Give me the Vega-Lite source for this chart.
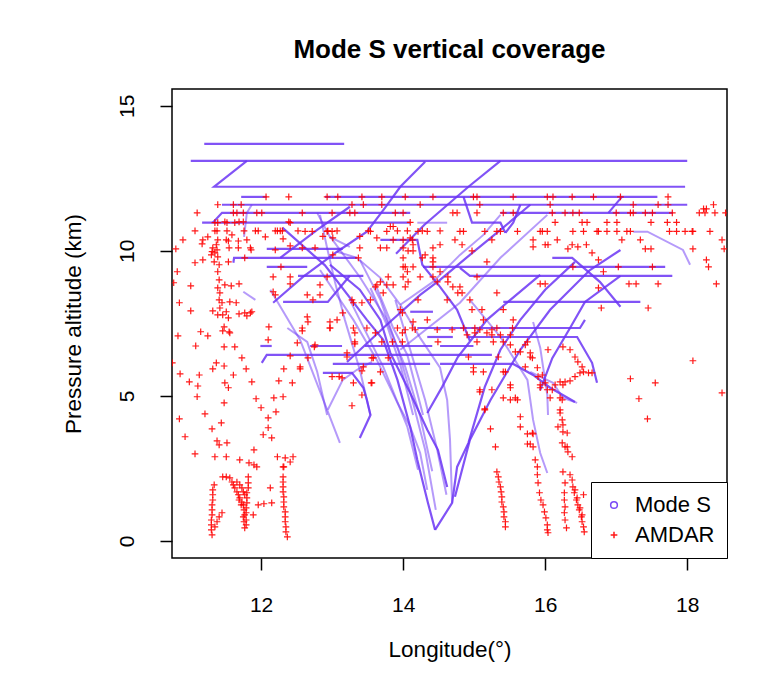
{
"$schema":"https://vega.github.io/schema/vega-lite/v6.json",
"width":555,"height":469,
"autosize":"none",
"padding":{"left":172,"top":89,"right":57,"bottom":116},
"background":"white",
"config":{"view":{"stroke":"#000","strokeWidth":1.5},"font":"Liberation Sans"},
"title":{"text":"Mode S vertical coverage","fontSize":26,"fontWeight":"bold","font":"Liberation Sans","color":"#000","offset":26,"anchor":"middle"},
"datasets":{
"dense":[
{"t":"m1","x":11.20,"y":13.69},{"t":"m1","x":13.17,"y":13.69},
{"t":"m2","x":11.01,"y":13.10},{"t":"m2","x":18.00,"y":13.10},
{"t":"m3","x":11.80,"y":13.10},{"t":"m3","x":11.34,"y":12.21},{"t":"m3","x":17.97,"y":12.21},
{"t":"m4","x":11.72,"y":11.86},{"t":"m4","x":12.08,"y":11.86},
{"t":"m5","x":12.90,"y":11.86},{"t":"m5","x":17.58,"y":11.86},
{"t":"m6","x":11.45,"y":11.59},{"t":"m6","x":18.00,"y":11.59},
{"t":"m7","x":11.32,"y":10.97},{"t":"m7","x":11.45,"y":11.31},{"t":"m7","x":14.10,"y":11.31},
{"t":"m8","x":15.37,"y":11.31},{"t":"m8","x":17.80,"y":11.31},
{"t":"m9","x":11.17,"y":10.97},{"t":"m9","x":14.10,"y":10.97},
{"t":"m10","x":14.85,"y":11.86},{"t":"m10","x":14.97,"y":10.97},{"t":"m10","x":15.37,"y":10.97},{"t":"m10","x":15.44,"y":10.62},
{"t":"m11","x":15.65,"y":11.59},{"t":"m11","x":15.55,"y":10.97},{"t":"m11","x":15.44,"y":10.62},
{"t":"m12","x":17.08,"y":11.86},{"t":"m12","x":16.89,"y":11.31},
{"t":"m15","x":12.08,"y":10.07},{"t":"m15","x":13.15,"y":10.07},
{"t":"m16","x":13.68,"y":10.38},{"t":"m16","x":14.20,"y":10.38},{"t":"m16","x":14.27,"y":9.52},{"t":"m16","x":14.52,"y":8.76},{"t":"m16","x":14.76,"y":7.97},{"t":"m16","x":14.94,"y":6.90},
{"t":"m17","x":11.61,"y":9.59},{"t":"m17","x":11.62,"y":9.76},{"t":"m17","x":13.35,"y":9.76},
{"t":"m18","x":16.10,"y":9.76},{"t":"m18","x":16.38,"y":9.76},{"t":"m18","x":16.77,"y":8.93},{"t":"m18","x":17.06,"y":8.07},
{"t":"m19a","x":14.28,"y":9.45},{"t":"m19a","x":17.69,"y":9.45},
{"t":"m19b","x":12.08,"y":9.45},{"t":"m19b","x":12.65,"y":9.45},
{"t":"m20","x":12.52,"y":9.14},{"t":"m20","x":13.44,"y":9.14},
{"t":"m21","x":14.80,"y":9.41},{"t":"m21","x":14.94,"y":9.14},{"t":"m21","x":17.79,"y":9.14},
{"t":"m22","x":12.31,"y":8.24},{"t":"m22","x":12.94,"y":8.24},{"t":"m22","x":13.25,"y":9.14},
{"t":"m23","x":15.41,"y":8.24},{"t":"m23","x":17.34,"y":8.24},
{"t":"m24","x":15.93,"y":5.20},{"t":"m24","x":16.10,"y":6.30},{"t":"m24","x":16.35,"y":7.34},{"t":"m24","x":16.56,"y":8.24},{"t":"m24","x":17.06,"y":9.14},
{"t":"m26","x":14.10,"y":7.90},{"t":"m26","x":14.42,"y":7.90},
{"t":"m27","x":14.20,"y":7.34},{"t":"m27","x":16.49,"y":7.34},{"t":"m27","x":16.56,"y":7.62},
{"t":"m28a","x":14.34,"y":7.03},{"t":"m28a","x":14.70,"y":7.03},
{"t":"m28b","x":14.90,"y":7.03},{"t":"m28b","x":16.45,"y":7.03},{"t":"m28b","x":16.66,"y":6.14},{"t":"m28b","x":16.73,"y":5.45},
{"t":"m29a","x":11.99,"y":6.72},{"t":"m29a","x":12.15,"y":6.72},
{"t":"m29b","x":12.69,"y":6.72},{"t":"m29b","x":13.14,"y":6.72},
{"t":"m29c","x":13.46,"y":6.72},{"t":"m29c","x":14.41,"y":6.72},
{"t":"m29d","x":14.52,"y":6.72},{"t":"m29d","x":14.99,"y":6.72},
{"t":"m30","x":12.01,"y":6.14},{"t":"m30","x":12.08,"y":6.41},{"t":"m30","x":15.25,"y":6.41},
{"t":"m31","x":13.01,"y":6.10},{"t":"m31","x":14.38,"y":6.10},
{"t":"m32","x":14.52,"y":6.10},{"t":"m32","x":15.55,"y":6.10},{"t":"m32","x":15.83,"y":5.72},{"t":"m32","x":16.07,"y":5.28},{"t":"m32","x":16.42,"y":4.79},
{"t":"m34","x":12.87,"y":5.79},{"t":"m34","x":13.28,"y":5.79},{"t":"m34","x":13.44,"y":5.28},{"t":"m34","x":13.49,"y":4.86},{"t":"m34","x":13.54,"y":4.34},{"t":"m34","x":13.39,"y":3.55},
{"t":"m36","x":12.30,"y":10.80},{"t":"m36","x":12.90,"y":9.50},{"t":"m36","x":13.49,"y":7.62},{"t":"m36","x":13.72,"y":6.93},{"t":"m36","x":13.92,"y":5.55},{"t":"m36","x":14.10,"y":3.93},{"t":"m36","x":14.20,"y":2.79},{"t":"m36","x":14.35,"y":1.31},{"t":"m36","x":14.45,"y":0.38},
{"t":"m37","x":14.45,"y":0.38},{"t":"m37","x":14.69,"y":1.31},{"t":"m37","x":14.76,"y":2.55},{"t":"m37","x":14.92,"y":3.38},{"t":"m37","x":15.15,"y":5.31},{"t":"m37","x":15.37,"y":6.59},{"t":"m37","x":15.65,"y":7.62},{"t":"m37","x":16.00,"y":8.66},{"t":"m37","x":16.42,"y":9.62},
{"t":"m38","x":14.62,"y":1.86},{"t":"m38","x":14.49,"y":3.14},{"t":"m38","x":14.34,"y":3.83},{"t":"m38","x":14.10,"y":5.10},{"t":"m38","x":13.82,"y":6.48},{"t":"m38","x":13.68,"y":7.62},{"t":"m38","x":13.39,"y":8.66},{"t":"m38","x":12.97,"y":9.52},
{"t":"m41","x":14.73,"y":1.52},{"t":"m41","x":14.94,"y":3.48},{"t":"m41","x":15.23,"y":4.86},{"t":"m41","x":15.65,"y":6.59},{"t":"m41","x":16.07,"y":7.97},{"t":"m41","x":16.63,"y":9.34},{"t":"m41","x":17.06,"y":10.03},
{"t":"m42","x":14.34,"y":4.41},{"t":"m42","x":14.55,"y":5.31},{"t":"m42","x":14.77,"y":6.34},{"t":"m42","x":15.18,"y":7.62},{"t":"m42","x":15.51,"y":8.31},{"t":"m42","x":15.93,"y":9.17},
{"t":"m51","x":12.17,"y":8.21},{"t":"m51","x":12.59,"y":9.10},{"t":"m51","x":13.07,"y":9.97},{"t":"m51","x":13.49,"y":10.66},{"t":"m51","x":13.75,"y":11.50},{"t":"m51","x":13.96,"y":12.21},{"t":"m51","x":14.31,"y":13.07},
{"t":"m52","x":13.21,"y":6.17},{"t":"m52","x":13.77,"y":7.45},{"t":"m52","x":14.24,"y":8.48},{"t":"m52","x":14.52,"y":9.00},{"t":"m52","x":14.94,"y":9.86},{"t":"m52","x":15.37,"y":10.72},{"t":"m52","x":15.79,"y":11.59},
{"t":"m53","x":12.27,"y":9.76},{"t":"m53","x":12.79,"y":10.72},{"t":"m53","x":13.25,"y":11.52},
{"t":"m55","x":13.90,"y":9.90},{"t":"m55","x":14.30,"y":10.90},{"t":"m55","x":14.92,"y":12.21},{"t":"m55","x":15.37,"y":13.10}
],
"sparse":[
{"t":"s9b","x":14.20,"y":10.97},{"t":"s9b","x":14.62,"y":10.97},
{"t":"s13","x":13.96,"y":6.59},{"t":"s13","x":14.80,"y":8.21},{"t":"s13","x":15.37,"y":9.76},{"t":"s13","x":16.03,"y":11.24},
{"t":"s14","x":13.96,"y":8.14},{"t":"s14","x":14.42,"y":8.93},{"t":"s14","x":14.80,"y":9.86},{"t":"s14","x":15.13,"y":10.55},{"t":"s14","x":15.37,"y":11.24},
{"t":"s25","x":17.24,"y":10.66},{"t":"s25","x":17.44,"y":10.66},{"t":"s25","x":17.94,"y":10.03},{"t":"s25","x":18.04,"y":9.52},
{"t":"s33","x":15.79,"y":5.83},{"t":"s33","x":16.11,"y":5.45},{"t":"s33","x":16.25,"y":4.93},{"t":"s33","x":16.45,"y":4.76},
{"t":"s35","x":13.07,"y":9.97},{"t":"s35","x":13.35,"y":9.76},{"t":"s35","x":13.68,"y":9.07},{"t":"s35","x":13.96,"y":8.14},{"t":"s35","x":14.24,"y":7.00},{"t":"s35","x":14.52,"y":5.97},{"t":"s35","x":14.62,"y":4.86},{"t":"s35","x":14.66,"y":3.50},{"t":"s35","x":14.69,"y":1.31},
{"t":"s39","x":12.83,"y":9.34},{"t":"s39","x":13.30,"y":7.62},{"t":"s39","x":13.63,"y":6.24},{"t":"s39","x":13.92,"y":4.76},{"t":"s39","x":14.10,"y":3.93},{"t":"s39","x":14.24,"y":3.03},{"t":"s39","x":14.34,"y":1.76},
{"t":"s40","x":13.25,"y":8.31},{"t":"s40","x":13.72,"y":6.00},{"t":"s40","x":14.06,"y":3.93},{"t":"s40","x":14.21,"y":2.45},
{"t":"s43","x":14.94,"y":8.31},{"t":"s43","x":15.37,"y":7.03},{"t":"s43","x":15.75,"y":5.55},{"t":"s43","x":15.83,"y":4.17},{"t":"s43","x":15.93,"y":3.03},{"t":"s43","x":16.03,"y":2.34},
{"t":"s44","x":15.83,"y":7.55},{"t":"s44","x":15.93,"y":6.66},{"t":"s44","x":16.03,"y":5.03},{"t":"s44","x":16.04,"y":4.34},
{"t":"s45","x":12.13,"y":8.66},{"t":"s45","x":12.55,"y":6.93},{"t":"s45","x":13.11,"y":3.38},
{"t":"s46","x":12.37,"y":7.34},{"t":"s46","x":12.65,"y":6.86},{"t":"s46","x":12.79,"y":5.83},{"t":"s46","x":12.93,"y":4.34},
{"t":"s47","x":12.83,"y":11.24},{"t":"s47","x":12.93,"y":10.10},{"t":"s47","x":13.04,"y":8.93},{"t":"s47","x":13.18,"y":7.62},{"t":"s47","x":13.39,"y":5.90},{"t":"s47","x":13.54,"y":4.34},
{"t":"s48","x":13.54,"y":8.72},{"t":"s48","x":13.77,"y":7.45},{"t":"s48","x":13.96,"y":6.07},{"t":"s48","x":14.14,"y":4.34},
{"t":"s49","x":13.63,"y":8.72},{"t":"s49","x":13.86,"y":7.34},{"t":"s49","x":14.06,"y":6.41},{"t":"s49","x":14.28,"y":4.34},
{"t":"s50","x":12.94,"y":4.52},{"t":"s50","x":13.15,"y":5.55},{"t":"s50","x":13.35,"y":5.90},{"t":"s50","x":13.56,"y":6.17},
{"t":"s56","x":11.87,"y":11.59},{"t":"s56","x":11.80,"y":11.31},{"t":"s56","x":11.76,"y":10.48},
{"t":"s57","x":11.75,"y":8.59},{"t":"s57","x":11.92,"y":8.31},
{"t":"s58","x":12.79,"y":11.31},{"t":"s58","x":12.97,"y":10.48},{"t":"s58","x":13.25,"y":10.14},
{"t":"s60","x":13.89,"y":8.31},{"t":"s60","x":14.10,"y":6.59},{"t":"s60","x":14.31,"y":4.86},{"t":"s60","x":14.48,"y":3.14},{"t":"s60","x":14.61,"y":1.59},
{"t":"s61","x":13.39,"y":9.69},{"t":"s61","x":13.68,"y":8.31},{"t":"s61","x":13.93,"y":6.59},{"t":"s61","x":14.13,"y":4.86},{"t":"s61","x":14.31,"y":3.14},{"t":"s61","x":14.46,"y":1.07},
{"t":"s62","x":12.97,"y":10.50},{"t":"s62","x":13.39,"y":9.10},{"t":"s62","x":13.75,"y":7.70},{"t":"s62","x":14.03,"y":6.00},{"t":"s62","x":14.24,"y":4.30},{"t":"s62","x":14.41,"y":2.40}
],
"amdar":[
{"x":10.75,"y":6.14},{"x":10.77,"y":8.90},{"x":10.80,"y":10.07},{"x":10.82,"y":9.28},{"x":10.83,"y":7.07},{"x":10.85,"y":8.21},{"x":10.85,"y":4.21},{"x":10.86,"y":5.76},{"x":10.90,"y":10.38},{"x":10.93,"y":3.59},
{"x":10.99,"y":5.48},{"x":11.01,"y":8.79},{"x":11.01,"y":7.93},{"x":11.07,"y":10.69},{"x":11.07,"y":9.59},{"x":11.07,"y":3.00},{"x":11.08,"y":6.72},{"x":11.10,"y":4.97},{"x":11.10,"y":11.31},{"x":11.11,"y":5.34},
{"x":11.13,"y":5.72},{"x":11.15,"y":7.21},{"x":11.17,"y":10.24},{"x":11.18,"y":10.38},{"x":11.18,"y":9.69},{"x":11.21,"y":4.38},{"x":11.25,"y":10.48},{"x":11.25,"y":7.07},{"x":11.31,"y":3.86},{"x":11.32,"y":5.93},
{"x":11.32,"y":7.93},{"x":11.35,"y":10.97},{"x":11.39,"y":10.97},{"x":11.35,"y":10.69},{"x":11.35,"y":2.90},{"x":11.37,"y":6.14},{"x":11.38,"y":3.45},{"x":11.39,"y":11.59},{"x":11.41,"y":3.31},{"x":11.44,"y":4.07},
{"x":11.45,"y":8.21},{"x":11.46,"y":7.79},{"x":11.46,"y":7.24},{"x":11.48,"y":7.38},{"x":11.48,"y":6.69},{"x":11.48,"y":6.03},{"x":11.48,"y":4.76},{"x":11.49,"y":11.0},{"x":11.49,"y":8.83},{"x":11.49,"y":5.45},
{"x":11.51,"y":10.38},{"x":11.51,"y":7.90},{"x":11.51,"y":2.90},{"x":11.52,"y":10.69},{"x":11.52,"y":10.97},{"x":11.52,"y":3.38},{"x":11.54,"y":10.34},{"x":11.54,"y":9.62},{"x":11.54,"y":7.69},{"x":11.54,"y":5.28},
{"x":11.55,"y":10.10},{"x":11.55,"y":7.21},{"x":11.56,"y":8.24},{"x":11.56,"y":7.17},{"x":11.58,"y":8.79},{"x":11.59,"y":10.55},{"x":11.61,"y":11.59},{"x":11.61,"y":11.31},{"x":11.61,"y":5.72},{"x":11.63,"y":10.97},
{"x":11.63,"y":6.69},{"x":11.65,"y":8.21},{"x":11.66,"y":11.31},{"x":11.68,"y":10.10},{"x":11.68,"y":10.34},{"x":11.69,"y":11.0},{"x":11.69,"y":8.86},{"x":11.69,"y":7.83},{"x":11.70,"y":2.79},{"x":11.72,"y":11.59},
{"x":11.73,"y":6.31},{"x":11.75,"y":11.31},{"x":11.75,"y":11.0},{"x":11.76,"y":10.69},{"x":11.77,"y":9.76},{"x":11.79,"y":5.93},{"x":11.80,"y":10.38},{"x":11.80,"y":7.76},{"x":11.83,"y":2.69},{"x":11.85,"y":10.10},
{"x":11.86,"y":10.03},{"x":11.87,"y":7.90},{"x":11.87,"y":5.48},{"x":11.89,"y":0.90},{"x":11.90,"y":2.62},{"x":11.90,"y":3.14},{"x":11.92,"y":10.69},{"x":11.93,"y":4.90},{"x":11.94,"y":11.31},{"x":11.94,"y":2.55},
{"x":11.96,"y":10.69},{"x":11.96,"y":1.24},{"x":12.0,"y":4.59},{"x":12.01,"y":11.31},{"x":12.03,"y":3.66},{"x":12.04,"y":1.28},{"x":12.06,"y":10.48},{"x":12.07,"y":11.86},{"x":12.10,"y":6.93},{"x":12.10,"y":4.24},
{"x":12.10,"y":3.90},{"x":12.11,"y":7.38},{"x":12.13,"y":1.83},{"x":12.15,"y":3.55},{"x":12.15,"y":1.31},{"x":12.17,"y":8.59},{"x":12.18,"y":4.93},{"x":12.20,"y":10.03},{"x":12.21,"y":4.45},{"x":12.23,"y":10.69},
{"x":12.23,"y":2.90},{"x":12.25,"y":5.52},{"x":12.27,"y":10.69},{"x":12.28,"y":9.45},{"x":12.31,"y":10.41},{"x":12.31,"y":4.97},{"x":12.32,"y":5.93},{"x":12.32,"y":2.55},{"x":12.34,"y":2.86},{"x":12.39,"y":11.86},
{"x":12.39,"y":11.0},{"x":12.41,"y":10.17},{"x":12.41,"y":8.86},{"x":12.41,"y":6.38},{"x":12.41,"y":2.72},{"x":12.44,"y":5.45},{"x":12.45,"y":2.90},{"x":12.51,"y":6.83},{"x":12.52,"y":10.69},{"x":12.55,"y":5.93},
{"x":12.58,"y":11.31},{"x":12.58,"y":7.24},{"x":12.58,"y":10.10},{"x":12.62,"y":10.67},{"x":12.65,"y":7.72},
{"x":11.38,"y":10.69},{"x":11.39,"y":10.38},{"x":11.37,"y":10.21},{"x":11.38,"y":10.03},{"x":11.35,"y":9.93},{"x":11.39,"y":9.79},{"x":11.41,"y":9.52},{"x":11.39,"y":9.28},{"x":11.41,"y":9.0},{"x":11.39,"y":8.72},
{"x":11.42,"y":8.55},{"x":11.41,"y":8.31},{"x":11.42,"y":8.03},{"x":11.39,"y":7.79},{"x":11.32,"y":10.10},{"x":11.31,"y":9.97},{"x":11.30,"y":9.86},{"x":11.34,"y":9.62},
{"x":11.34,"y":1.93},{"x":11.32,"y":1.76},{"x":11.32,"y":1.59},{"x":11.32,"y":1.41},{"x":11.31,"y":1.24},{"x":11.31,"y":1.07},{"x":11.31,"y":0.90},{"x":11.30,"y":0.72},{"x":11.30,"y":0.55},{"x":11.30,"y":0.38},
{"x":11.31,"y":0.21},{"x":11.35,"y":0.48},{"x":11.38,"y":0.66},{"x":11.41,"y":0.83},{"x":11.45,"y":0.97},
{"x":11.46,"y":2.21},{"x":11.51,"y":2.21},{"x":11.56,"y":2.17},{"x":11.59,"y":2.03},{"x":11.61,"y":1.93},{"x":11.63,"y":1.83},{"x":11.66,"y":1.69},{"x":11.68,"y":1.59},{"x":11.70,"y":1.48},{"x":11.73,"y":1.34},
{"x":11.75,"y":1.24},{"x":11.76,"y":1.07},{"x":11.77,"y":0.90},{"x":11.79,"y":0.72},{"x":11.79,"y":0.55},{"x":11.82,"y":2.21},{"x":11.82,"y":2.0},{"x":11.82,"y":1.83},{"x":11.80,"y":1.66},{"x":11.80,"y":1.48},
{"x":11.80,"y":1.31},{"x":11.79,"y":1.14},{"x":11.79,"y":0.97},{"x":11.66,"y":2.03},{"x":11.70,"y":1.93},{"x":11.73,"y":1.83},{"x":11.75,"y":1.69},{"x":11.77,"y":1.59},{"x":11.69,"y":1.41},{"x":11.72,"y":1.24},
{"x":11.75,"y":0.83},{"x":11.76,"y":0.66},{"x":11.77,"y":0.45},
{"x":12.31,"y":2.21},{"x":12.31,"y":2.03},{"x":12.31,"y":1.86},{"x":12.31,"y":1.69},{"x":12.32,"y":1.52},{"x":12.32,"y":1.34},{"x":12.32,"y":1.17},{"x":12.34,"y":1.0},{"x":12.34,"y":0.83},{"x":12.34,"y":0.66},
{"x":12.35,"y":0.48},{"x":12.35,"y":0.31},{"x":12.37,"y":0.14},{"x":12.31,"y":2.55},
{"x":13.32,"y":6.79},{"x":12.75,"y":6.69},{"x":12.66,"y":6.31},{"x":13.21,"y":6.34},{"x":13.58,"y":6.31},{"x":13.0,"y":5.66},{"x":13.10,"y":5.66},{"x":13.42,"y":5.86},{"x":13.55,"y":5.45},
{"x":12.76,"y":10.10},{"x":13.39,"y":10.10},{"x":13.68,"y":10.10},{"x":13.77,"y":10.10},{"x":14.0,"y":10.10},{"x":14.42,"y":10.10},{"x":13.01,"y":10.45},{"x":13.63,"y":10.45},{"x":14.10,"y":10.45},
{"x":14.0,"y":9.45},{"x":14.14,"y":9.45},{"x":14.42,"y":9.45},{"x":13.37,"y":9.76},{"x":14.0,"y":9.76},{"x":14.27,"y":9.76},{"x":14.42,"y":9.76},{"x":12.17,"y":9.10},{"x":12.41,"y":9.10},{"x":14.0,"y":9.10},
{"x":14.24,"y":9.10},{"x":14.42,"y":9.10},{"x":12.83,"y":8.83},{"x":13.63,"y":8.83},{"x":13.77,"y":8.83},{"x":13.86,"y":8.83},{"x":12.83,"y":8.48},{"x":12.20,"y":8.48},{"x":12.65,"y":8.48},{"x":13.30,"y":8.21},
{"x":13.42,"y":8.21},{"x":11.77,"y":7.86},{"x":11.85,"y":7.86},{"x":13.15,"y":7.86},{"x":13.99,"y":7.86},{"x":12.66,"y":7.55},{"x":12.97,"y":7.55},{"x":14.14,"y":7.55},
{"x":13.51,"y":10.69},{"x":13.92,"y":10.69},{"x":14.06,"y":10.69},{"x":14.27,"y":10.69},{"x":14.52,"y":10.69},{"x":12.20,"y":10.69},{"x":12.30,"y":10.69},{"x":13.07,"y":10.69},{"x":12.94,"y":10.69},
{"x":12.93,"y":11.86},{"x":13.08,"y":11.86},{"x":13.42,"y":11.86},{"x":13.70,"y":11.86},{"x":14.03,"y":11.86},{"x":14.42,"y":11.86},{"x":14.99,"y":11.86},{"x":15.04,"y":11.86},{"x":15.55,"y":11.86},{"x":16.03,"y":11.86},
{"x":13.28,"y":11.59},{"x":13.44,"y":11.59},{"x":13.70,"y":11.59},{"x":14.24,"y":11.59},{"x":15.08,"y":11.59},
{"x":13.0,"y":11.31},{"x":13.25,"y":11.31},{"x":13.32,"y":11.31},{"x":13.89,"y":11.31},{"x":14.0,"y":11.31},{"x":14.70,"y":11.31},{"x":14.76,"y":11.31},{"x":15.04,"y":11.31},{"x":15.41,"y":11.31},{"x":15.55,"y":11.31},
{"x":14.10,"y":10.98},{"x":12.41,"y":10.97},{"x":13.82,"y":10.84},{"x":13.86,"y":10.84},
{"x":12.72,"y":10.67},{"x":12.93,"y":10.67},{"x":13.0,"y":10.67},{"x":13.54,"y":10.67},{"x":13.77,"y":10.67},{"x":14.21,"y":10.67},{"x":14.34,"y":10.67},{"x":14.80,"y":10.67},{"x":14.85,"y":10.67},{"x":15.15,"y":10.67},
{"x":15.32,"y":10.67},{"x":15.37,"y":10.67},{"x":15.61,"y":10.67},{"x":15.93,"y":10.67},
{"x":12.87,"y":10.50},{"x":13.39,"y":10.50},{"x":13.86,"y":10.38},{"x":14.0,"y":10.38},{"x":14.13,"y":10.38},{"x":14.73,"y":10.38},{"x":15.25,"y":10.38},{"x":15.83,"y":10.38},
{"x":14.14,"y":10.21},{"x":14.52,"y":10.21},{"x":14.83,"y":10.21},{"x":16.0,"y":10.21},{"x":14.07,"y":10.0},{"x":14.14,"y":10.0},{"x":14.97,"y":10.0},{"x":13.01,"y":9.86},{"x":14.31,"y":9.86},
{"x":14.42,"y":9.62},{"x":15.18,"y":9.62},{"x":14.03,"y":9.45},{"x":14.06,"y":9.28},{"x":14.52,"y":9.28},
{"x":12.93,"y":9.10},{"x":13.79,"y":9.10},{"x":14.63,"y":9.10},{"x":15.04,"y":9.10},{"x":13.68,"y":8.93},{"x":14.07,"y":8.93},{"x":14.48,"y":8.93},{"x":14.63,"y":8.93},
{"x":13.61,"y":8.76},{"x":14.03,"y":8.76},{"x":14.70,"y":8.76},{"x":14.80,"y":8.76},{"x":13.72,"y":8.55},{"x":14.77,"y":8.55},{"x":14.83,"y":8.55},{"x":15.32,"y":8.55},
{"x":12.73,"y":8.31},{"x":13.28,"y":8.31},{"x":13.54,"y":8.31},{"x":14.21,"y":8.31},{"x":14.62,"y":8.31},{"x":14.94,"y":8.31},
{"x":13.96,"y":7.97},{"x":14.97,"y":7.97},{"x":15.11,"y":7.97},{"x":15.41,"y":7.97},{"x":13.07,"y":7.62},{"x":14.34,"y":7.62},{"x":15.13,"y":7.62},{"x":15.55,"y":7.62},
{"x":12.97,"y":7.34},{"x":13.49,"y":7.34},{"x":13.92,"y":7.34},
{"x":16.11,"y":11.86},{"x":16.38,"y":11.86},{"x":16.68,"y":11.86},{"x":17.06,"y":11.86},{"x":17.73,"y":11.86},
{"x":16.07,"y":11.59},{"x":17.24,"y":11.59},{"x":17.59,"y":11.59},{"x":17.73,"y":11.59},{"x":18.37,"y":11.59},{"x":18.23,"y":11.45},{"x":18.27,"y":11.45},
{"x":16.10,"y":11.31},{"x":16.28,"y":11.31},{"x":16.39,"y":11.31},{"x":16.48,"y":11.31},{"x":17.0,"y":11.31},{"x":17.20,"y":11.31},{"x":17.24,"y":11.31},{"x":17.41,"y":11.31},{"x":17.51,"y":11.31},{"x":17.79,"y":11.31},
{"x":18.17,"y":11.31},{"x":18.25,"y":11.31},{"x":18.39,"y":11.31},{"x":18.54,"y":11.31},
{"x":16.14,"y":10.98},{"x":16.52,"y":10.98},{"x":16.59,"y":10.98},{"x":16.87,"y":10.98},{"x":17.01,"y":10.98},{"x":17.49,"y":10.98},{"x":17.72,"y":10.98},{"x":17.85,"y":10.98},
{"x":15.96,"y":10.67},{"x":16.03,"y":10.67},{"x":16.39,"y":10.67},{"x":16.54,"y":10.67},{"x":16.73,"y":10.67},{"x":16.75,"y":10.67},{"x":16.87,"y":10.67},{"x":17.01,"y":10.67},{"x":17.15,"y":10.67},{"x":17.20,"y":10.67},
{"x":17.75,"y":10.67},{"x":17.85,"y":10.67},{"x":17.97,"y":10.67},{"x":18.07,"y":10.67},{"x":18.08,"y":10.67},{"x":18.32,"y":10.67},
{"x":16.17,"y":10.38},{"x":17.08,"y":10.38},{"x":17.34,"y":10.38},{"x":18.49,"y":10.38},{"x":16.04,"y":10.21},{"x":16.38,"y":10.21},{"x":16.58,"y":10.21},{"x":15.83,"y":10.14},{"x":16.46,"y":10.14},
{"x":16.32,"y":10.07},{"x":17.41,"y":10.07},{"x":17.49,"y":10.07},{"x":18.08,"y":10.07},{"x":18.52,"y":10.07},{"x":16.66,"y":9.93},{"x":16.75,"y":9.69},{"x":18.27,"y":9.69},
{"x":16.39,"y":9.45},{"x":17.03,"y":9.45},{"x":17.51,"y":9.45},{"x":18.30,"y":9.45},{"x":16.82,"y":9.28},
{"x":15.93,"y":8.86},{"x":16.0,"y":8.86},{"x":17.18,"y":8.86},{"x":17.28,"y":8.86},{"x":17.59,"y":8.86},{"x":18.41,"y":8.86},{"x":16.75,"y":8.72},{"x":16.79,"y":8.03},{"x":17.45,"y":8.03},
{"x":14.03,"y":7.28},{"x":14.17,"y":7.28},{"x":14.48,"y":7.28},{"x":14.69,"y":7.28},{"x":15.08,"y":7.28},{"x":15.25,"y":7.28},
{"x":14.90,"y":7.10},{"x":15.25,"y":7.10},{"x":15.37,"y":7.10},{"x":15.51,"y":7.10},
{"x":13.99,"y":6.86},{"x":14.49,"y":6.86},{"x":15.04,"y":6.86},{"x":15.27,"y":6.86},{"x":15.41,"y":6.86},{"x":15.75,"y":6.86},
{"x":15.58,"y":6.52},{"x":15.65,"y":6.52},{"x":14.92,"y":6.34},{"x":15.34,"y":6.34},{"x":15.79,"y":6.34},{"x":14.99,"y":5.97},{"x":15.89,"y":5.97},
{"x":15.13,"y":5.83},{"x":15.44,"y":5.83},{"x":15.96,"y":5.72},{"x":15.51,"y":5.38},{"x":15.93,"y":5.38},{"x":16.25,"y":5.38},
{"x":15.08,"y":5.21},{"x":15.25,"y":5.21},{"x":16.03,"y":5.21},{"x":15.41,"y":4.93},{"x":15.58,"y":4.93},{"x":16.21,"y":4.93},{"x":15.15,"y":4.52},{"x":16.21,"y":4.52},
{"x":12.58,"y":7.34},{"x":12.97,"y":7.34},{"x":13.30,"y":7.34},{"x":14.13,"y":7.34},{"x":14.85,"y":7.34},{"x":15.01,"y":7.34},{"x":15.32,"y":7.34},{"x":15.54,"y":7.34},
{"x":13.32,"y":7.17},{"x":13.61,"y":7.17},{"x":13.99,"y":7.17},{"x":15.01,"y":7.17},{"x":15.18,"y":7.17},
{"x":13.32,"y":6.86},{"x":13.70,"y":6.86},{"x":13.85,"y":6.86},{"x":12.76,"y":6.76},{"x":15.51,"y":6.76},{"x":15.72,"y":6.76},
{"x":13.21,"y":6.48},{"x":15.79,"y":6.48},{"x":13.56,"y":6.31},{"x":13.79,"y":6.31},{"x":15.82,"y":6.31},{"x":12.55,"y":6.0},{"x":13.44,"y":6.0},{"x":15.72,"y":6.0},
{"x":13.68,"y":5.83},{"x":14.99,"y":5.83},{"x":15.41,"y":5.83},{"x":13.14,"y":5.62},{"x":13.30,"y":5.45},{"x":13.56,"y":5.45},{"x":15.51,"y":5.28},{"x":15.93,"y":5.28},
{"x":15.08,"y":5.14},{"x":13.42,"y":5.03},{"x":15.51,"y":4.86},{"x":15.61,"y":4.86},{"x":13.28,"y":4.66},{"x":15.15,"y":4.55},{"x":15.65,"y":4.28},{"x":15.65,"y":3.93},
{"x":15.23,"y":3.86},{"x":15.75,"y":3.69},{"x":15.83,"y":3.69},{"x":15.75,"y":3.34},{"x":15.79,"y":3.34},{"x":15.30,"y":3.24},
{"x":15.32,"y":2.38},{"x":15.34,"y":2.21},{"x":15.35,"y":2.03},{"x":15.37,"y":1.86},{"x":15.38,"y":1.69},{"x":15.39,"y":1.52},{"x":15.39,"y":1.34},{"x":15.41,"y":1.17},{"x":15.42,"y":1.0},{"x":15.42,"y":0.83},
{"x":15.44,"y":0.66},{"x":15.44,"y":0.48},
{"x":15.86,"y":2.79},{"x":15.89,"y":2.55},{"x":15.89,"y":2.28},{"x":15.90,"y":2.0},{"x":15.92,"y":1.66},{"x":15.94,"y":1.41},{"x":15.97,"y":1.24},{"x":15.99,"y":1.0},{"x":16.01,"y":0.79},{"x":16.03,"y":0.55},
{"x":16.03,"y":0.38},{"x":16.04,"y":0.28},{"x":15.83,"y":3.24},{"x":15.82,"y":3.72},
{"x":16.21,"y":4.41},{"x":16.24,"y":4.17},{"x":16.25,"y":4.0},{"x":16.18,"y":3.93},{"x":16.25,"y":3.76},{"x":16.31,"y":3.72},{"x":16.31,"y":3.24},{"x":16.32,"y":3.07},{"x":16.38,"y":2.90},{"x":16.24,"y":3.38},
{"x":16.28,"y":3.24},
{"x":16.25,"y":2.38},{"x":16.28,"y":2.0},{"x":16.27,"y":1.66},{"x":16.27,"y":1.41},{"x":16.28,"y":1.17},{"x":16.27,"y":0.97},{"x":16.28,"y":0.72},{"x":16.30,"y":0.45},
{"x":16.35,"y":2.28},{"x":16.38,"y":2.10},{"x":16.39,"y":1.86},{"x":16.41,"y":1.66},{"x":16.44,"y":1.41},{"x":16.46,"y":1.24},{"x":16.48,"y":1.07},{"x":16.51,"y":0.83},{"x":16.52,"y":0.66},{"x":16.54,"y":0.48},
{"x":16.55,"y":0.31},{"x":16.54,"y":1.59},{"x":16.42,"y":1.76},{"x":16.45,"y":1.48},{"x":16.49,"y":1.14},{"x":16.52,"y":0.90},
{"x":16.25,"y":6.69},{"x":16.35,"y":6.59},{"x":16.42,"y":6.34},{"x":16.46,"y":6.17},{"x":16.52,"y":6.0},{"x":16.54,"y":5.83},{"x":16.61,"y":5.79},{"x":16.66,"y":5.79},{"x":16.10,"y":5.21},{"x":16.14,"y":5.38},
{"x":16.21,"y":5.48},{"x":16.28,"y":5.48},{"x":16.35,"y":5.52},{"x":16.42,"y":5.66},{"x":16.49,"y":5.79},{"x":16.07,"y":4.93},{"x":16.24,"y":4.86},{"x":16.04,"y":6.59},{"x":16.0,"y":5.45},{"x":15.90,"y":5.66},
{"x":18.08,"y":6.21},{"x":17.20,"y":5.59},{"x":17.55,"y":5.45},{"x":17.32,"y":4.90},{"x":17.44,"y":4.21},{"x":18.49,"y":5.10}
]
},
"layer":[
{"data":{"name":"sparse"},
 "mark":{"type":"line","color":"#6b35f5","strokeWidth":2,"opacity":0.5,"clip":true},
 "encoding":{
  "x":{"field":"x","type":"quantitative","scale":{"domain":[10.746,18.56],"nice":false,"zero":false},
   "axis":{"values":[12,14,16,18],"format":"d","domain":false,"grid":false,"tickSize":12,"tickWidth":1.5,"tickColor":"#000","labelFontSize":21,"labelColor":"#000","labelPadding":24,"title":"Longitude(°)","titleFontSize":22.5,"titleFontWeight":"normal","titleColor":"#000","titlePadding":23}},
  "y":{"field":"y","type":"quantitative","scale":{"domain":[-0.59,15.58],"nice":false,"zero":false},
   "axis":{"values":[0,5,10,15],"format":"d","domain":false,"grid":false,"tickSize":12,"tickWidth":1.5,"tickColor":"#000","labelFontSize":21,"labelColor":"#000","labelAngle":270,"labelAlign":"center","labelBaseline":"alphabetic","labelPadding":27,"title":"Pressure altitude (km)","titleFontSize":22.5,"titleFontWeight":"normal","titleColor":"#000","titlePadding":31}},
  "detail":{"field":"t"},
  "order":{"value":null}
 }},
{"data":{"name":"dense"},
 "mark":{"type":"line","color":"#6b35f5","strokeWidth":2.2,"opacity":0.85,"clip":true},
 "encoding":{
  "x":{"field":"x","type":"quantitative"},
  "y":{"field":"y","type":"quantitative"},
  "detail":{"field":"t"},
  "order":{"value":null}
 }},
{"data":{"name":"amdar"},
 "mark":{"type":"point","filled":false,"strokeWidth":1.2,"opacity":0.9,"size":45,"clip":true},
 "encoding":{
  "x":{"field":"x","type":"quantitative"},
  "y":{"field":"y","type":"quantitative"},
  "color":{"datum":"AMDAR","type":"nominal","scale":{"domain":["Mode S","AMDAR"],"range":["#6b35f5","#ff0000"]},
   "legend":{"title":null,"orient":"bottom-right","offset":0,"padding":12,"strokeColor":"#000","fillColor":"#fff","labelFontSize":22,"labelFont":"Liberation Sans","labelColor":"#000","symbolStrokeWidth":1.5,"symbolSize":45,"rowPadding":8,"labelOffset":10,"labelLimit":300,"cornerRadius":0}},
  "shape":{"datum":"AMDAR","type":"nominal","scale":{"domain":["Mode S","AMDAR"],"range":["circle","M-1,0H1M0,-1V1"]},
   "legend":{"title":null,"orient":"bottom-right","offset":0,"padding":12,"strokeColor":"#000","fillColor":"#fff","labelFontSize":22,"labelFont":"Liberation Sans","labelColor":"#000","symbolStrokeWidth":1.5,"symbolSize":45,"rowPadding":8,"labelOffset":10,"labelLimit":300,"cornerRadius":0}}
 }}
]
}
